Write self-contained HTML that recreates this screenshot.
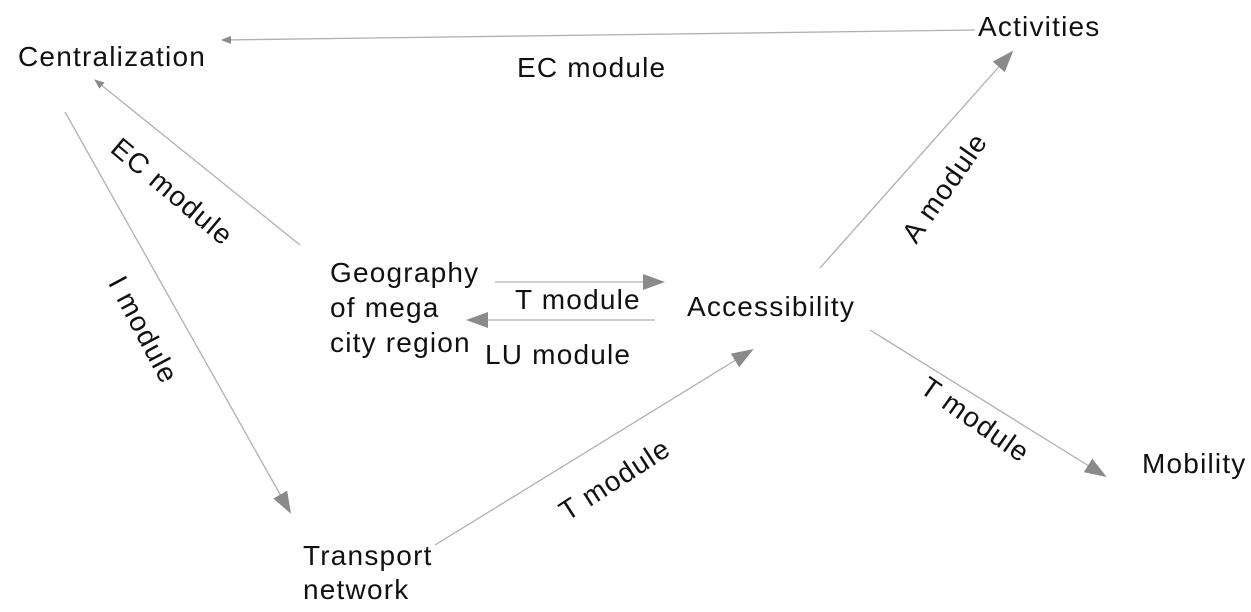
<!DOCTYPE html>
<html><head><meta charset="utf-8"><style>
html,body{margin:0;padding:0;background:#fff;}
svg text{font-family:"Liberation Sans",Arial,sans-serif;font-size:28px;letter-spacing:1.2px;fill:#111;}
</style></head><body>
<svg width="1251" height="607" viewBox="0 0 1251 607" xmlns="http://www.w3.org/2000/svg">
<defs>
<marker id="a" markerWidth="10" markerHeight="8" refX="9" refY="4" orient="auto" markerUnits="userSpaceOnUse" viewBox="0 0 10 8">
<path d="M0,0 L10,4 L0,8 z" fill="#8a8a8a"/></marker>
<marker id="b" markerWidth="22" markerHeight="16" refX="20" refY="8" orient="auto" markerUnits="userSpaceOnUse" viewBox="0 0 22 16">
<path d="M0,0 L22,8 L0,16 z" fill="#8a8a8a"/></marker>
</defs>
<g stroke="#b0b0b0" stroke-width="1.3" fill="none">
<line x1="975" y1="30" x2="222" y2="40" marker-end="url(#a)"/>
<line x1="300" y1="245" x2="95" y2="80" marker-end="url(#a)"/>
<line x1="65" y1="112" x2="290" y2="512" marker-end="url(#b)"/>
<line x1="435" y1="545" x2="752" y2="350" marker-end="url(#b)"/>
<line x1="820" y1="268" x2="1012" y2="52" marker-end="url(#b)"/>
<line x1="870" y1="330" x2="1105" y2="476" marker-end="url(#b)"/>
<line x1="495" y1="282" x2="663" y2="282" marker-end="url(#b)"/>
<line x1="655" y1="320" x2="468" y2="320" marker-end="url(#b)"/>
</g>
<text x="18" y="66">Centralization</text>
<text x="978" y="36">Activities</text>
<text x="517" y="77">EC module</text>
<text x="330" y="282">Geography</text>
<text x="330" y="317">of mega</text>
<text x="330" y="352">city region</text>
<text x="515" y="309">T module</text>
<text x="485" y="364">LU module</text>
<text x="687" y="316">Accessibility</text>
<text x="1142" y="473">Mobility</text>
<text x="303" y="565">Transport</text>
<text x="303" y="599">network</text>
<text transform="translate(172,192) rotate(40)" text-anchor="middle" dy="9">EC module</text>
<text transform="translate(143,330) rotate(62)" text-anchor="middle" dy="9">I module</text>
<text transform="translate(945,188) rotate(-55)" text-anchor="middle" dy="9">A module</text>
<text transform="translate(975,420) rotate(35)" text-anchor="middle" dy="9">T module</text>
<text transform="translate(615,480) rotate(-33)" text-anchor="middle" dy="9">T module</text>
</svg>
</body></html>
